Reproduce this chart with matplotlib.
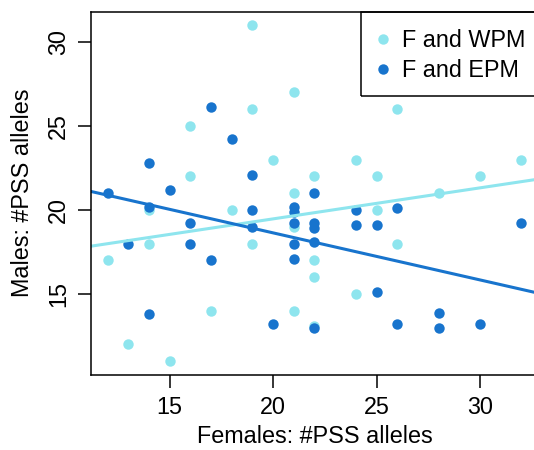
import numpy as np
import matplotlib
matplotlib.use("Agg")
import matplotlib.pyplot as plt
from matplotlib.patches import Rectangle

plt.rcParams['font.family'] = ['Liberation Sans', 'DejaVu Sans']

# Females vs males #PSS alleles, F and WPM pairs
wpm_female = [12, 13, 14, 14, 15, 16, 16, 17, 18, 19, 19, 19, 20, 21, 21,
              21, 21, 22, 22, 22, 22, 24, 24, 25, 25, 26, 26, 28, 30, 32]
wpm_male = [17, 12, 20, 18, 11, 25, 22, 14, 20, 31, 26, 18, 23, 27, 21,
            19, 14, 22, 17, 16, 13.1, 23, 15, 22, 20, 26, 18, 21, 22, 23]

# F and EPM pairs
epm_female = [12, 13, 14, 14, 14, 15, 16, 16, 17, 17, 18, 19, 19, 19, 20,
              21, 21, 21, 21, 21, 22, 22, 22, 22, 22, 24, 24, 25, 25, 26,
              26, 28, 28, 30, 32]
epm_male = [21, 18, 22.8, 20.2, 13.8, 21.2, 19.2, 18, 26.1, 17, 24.2, 22.1,
            20, 19, 13.2, 20.2, 19.9, 19.2, 18, 17.1, 21, 19.2, 18.9, 18.1,
            12.95, 20, 19.1, 19.1, 15.1, 20.1, 13.2, 13.9, 13.0, 13.2, 19.2]

# fitted lines: intercept, slope
wpm_fit = (15.78, 0.1846)
epm_fit = (24.24, -0.280)

series_labels = ["F and WPM", "F and EPM"]
x_ticks = [15, 20, 25, 30]
y_ticks = [15, 20, 25, 30]

light = "#8EE5EE"
dark = "#1874CD"
fs = 16.8

fig = plt.figure(figsize=(5.34, 4.5), dpi=100)
ax = fig.add_axes([91 / 534, (450 - 374.7) / 450, (537.9 - 91) / 534, (374.7 - 11.7) / 450])

xlim = (11.2, 32.8)
ylim = (10.2, 31.8)
ax.set_xlim(*xlim)
ax.set_ylim(*ylim)

h1, = ax.plot(wpm_female, wpm_male, 'o', ms=7.5, mec='none', color=light,
              label=series_labels[0])
h2, = ax.plot(epm_female, epm_male, 'o', ms=7.5, mec='none', color=dark,
              label=series_labels[1])

xx = np.array(xlim)
ax.plot(xx, wpm_fit[0] + wpm_fit[1] * xx, color=light, lw=2.2)
ax.plot(xx, epm_fit[0] + epm_fit[1] * xx, color=dark, lw=2.2)

ax.set_xticks(x_ticks)
ax.set_yticks(y_ticks)
ax.tick_params(axis='both', length=9.4, width=1.1, direction='out',
               labelsize=fs, color='black')
ax.tick_params(axis='x', pad=6.2)
ax.tick_params(axis='y', pad=5.8)
for lab in ax.get_yticklabels():
    lab.set_rotation(90)
    lab.set_va('center')
    lab.set_ha('right')

for sp in ax.spines.values():
    sp.set_linewidth(1.1)
    sp.set_color('black')

ax.set_xlabel("Females: #PSS alleles", fontsize=fs, labelpad=4.0)
ax.set_ylabel("Males: #PSS alleles", fontsize=fs, labelpad=9.4)

# legend frame anchored at the top-right corner of the plot
ax.add_patch(Rectangle((0.6042, 0.7686), 0.3958, 0.2314, transform=ax.transAxes,
                       fill=False, lw=1.1, edgecolor='black', clip_on=False, zorder=5))
ax.legend([h1, h2], series_labels, loc='upper left',
          bbox_to_anchor=(373.3 / 534, (450 - 29) / 450),
          bbox_transform=fig.transFigure, frameon=False, borderpad=0,
          borderaxespad=0, handlelength=0.8, handletextpad=0.45,
          labelspacing=0.3, fontsize=fs)

fig.savefig("out.png", dpi=100)
